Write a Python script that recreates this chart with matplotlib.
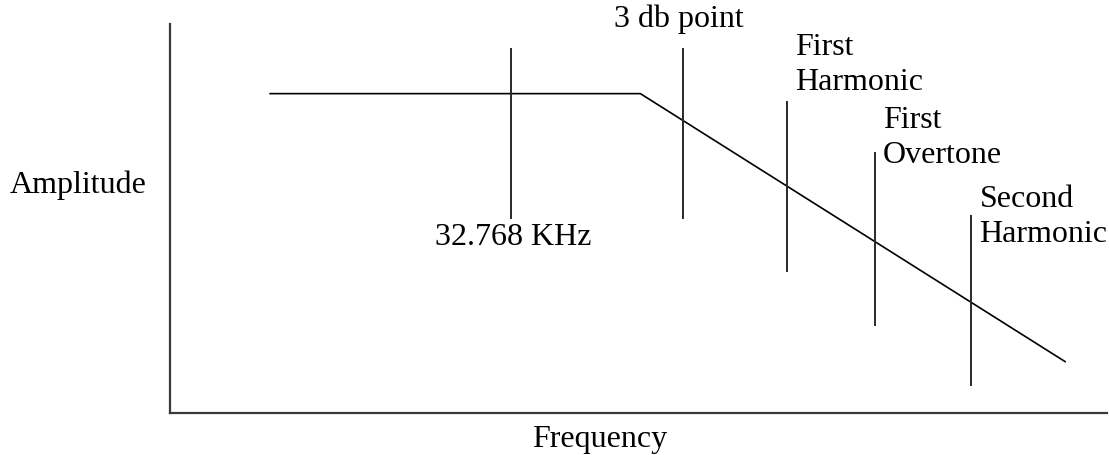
import matplotlib
matplotlib.use("Agg")
import matplotlib.pyplot as plt

# Response curve (frequency, amplitude) in arbitrary 0-100 units
resp_x = [10.6, 50.2, 95.6]
resp_y = [82.1, 82.1, 13.1]

# Marker lines: position, lower end, upper end
marker_names = ["32.768 KHz", "3 db point", "First\nHarmonic", "First\nOvertone", "Second\nHarmonic"]
marker_x = [36.4, 54.7, 65.8, 75.2, 85.5]
marker_lo = [49.9, 49.9, 36.2, 22.4, 6.9]
marker_hi = [93.8, 93.8, 80.2, 67.1, 50.9]

# Label anchors (baseline of last line)
label_x = [36.6, 54.3, 66.7, 76.1, 86.4]
label_y = [43.4, 99.5, 83.3, 64.5, 44.2]
label_ha = ["center", "center", "left", "left", "left"]

W, H = 1109, 456
fig = plt.figure(figsize=(W / 100, H / 100), dpi=100)
ax = fig.add_axes([170 / W, (H - 414) / H, (1107 - 170) / W, (414 - 25) / H])
ax.set_xlim(0, 100)
ax.set_ylim(0, 100)

font = dict(family=["Liberation Serif", "DejaVu Serif"], size=23, color="black")

for side in ("top", "right"):
    ax.spines[side].set_visible(False)
for side in ("left", "bottom"):
    ax.spines[side].set_color("#3a3a3a")
    ax.spines[side].set_linewidth(1.6)
ax.set_xticks([])
ax.set_yticks([])

ax.plot(resp_x, resp_y, color="black", lw=1.2, solid_capstyle="butt")
ax.vlines(marker_x, marker_lo, marker_hi, color="#2a2a2a", lw=1.4)

for name, lx, ly, ha in zip(marker_names, label_x, label_y, label_ha):
    ax.text(lx, ly, name, ha=ha, va="baseline", linespacing=1.28, clip_on=False, **font)

fig.text(78.5 / W, (H - 193) / H, "Amplitude", ha="center", va="baseline", **font)
fig.text(600 / W, (H - 447) / H, "Frequency", ha="center", va="baseline", **font)

fig.savefig("out.png", dpi=100, facecolor="white")
